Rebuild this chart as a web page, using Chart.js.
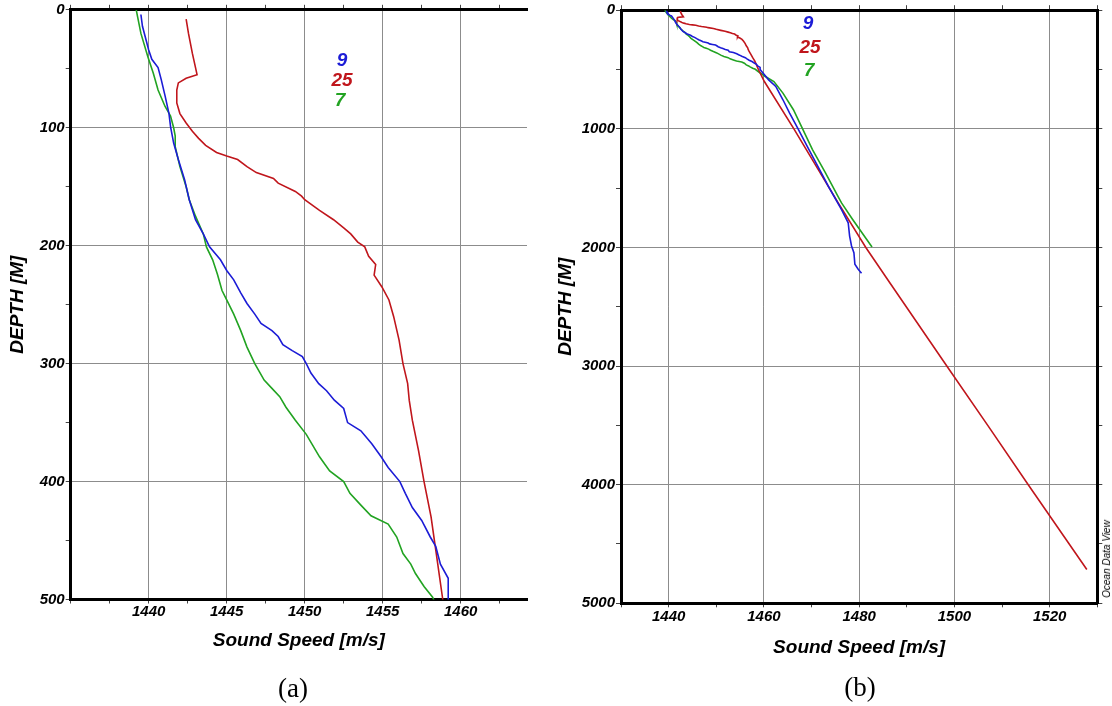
<!DOCTYPE html>
<html>
<head>
<meta charset="utf-8">
<script src="https://cdn.jsdelivr.net/npm/chart.js@4"></script>
<style>
  body { margin: 0; background: #fff; width: 1112px; height: 706px; position: relative; overflow: hidden; }
  canvas { position: absolute; top: 0; }
  #leftChart { left: 0; }
  #rightChart { left: 556px; }
  .lbl { position: absolute; transform: translate(-50%, -50%); line-height: 1; white-space: nowrap;
         font-family: "Liberation Sans", Arial, sans-serif; font-weight: bold; font-style: italic; font-size: 19px; }
  .cap { position: absolute; transform: translate(-50%, -50%); line-height: 1;
         font-family: "Liberation Serif", "DejaVu Serif", serif; font-size: 27px; }
  .odv { position: absolute; transform: translate(-50%, -50%) rotate(-90deg); line-height: 1; white-space: nowrap;
         font-family: "Liberation Sans", Arial, sans-serif; font-style: italic; font-size: 10px; }
</style>
</head>
<body>
<canvas id="leftChart" width="556" height="706"></canvas>
<canvas id="rightChart" width="556" height="706"></canvas>

<div class="lbl" style="left:342px; top:59px; color:#1c1cd6;">9</div>
<div class="lbl" style="left:342px; top:79px; color:#c0161c;">25</div>
<div class="lbl" style="left:340px; top:99px; color:#22a322;">7</div>

<div class="lbl" style="left:808px; top:22px; color:#1c1cd6;">9</div>
<div class="lbl" style="left:810px; top:46px; color:#c0161c;">25</div>
<div class="lbl" style="left:809px; top:69px; color:#22a322;">7</div>

<div class="cap" style="left:293px; top:688px;">(a)</div>
<div class="cap" style="left:860px; top:687px;">(b)</div>
<div class="odv" style="left:1107px; top:559px;">Ocean Data View</div>

<script>
// station 9 (blue)
const depth9 = [4, 14, 34, 42, 49, 59, 73, 88, 99, 113, 127, 144, 161, 178, 190, 201, 212, 221, 229, 240,
  249, 258, 266, 272, 277, 284, 289, 294, 300, 308, 317, 323, 331, 338, 350, 357, 368, 379, 388, 400,
  410, 422, 433, 447, 455, 470, 482, 500, 587, 643, 755, 867, 979, 1147, 1315, 1482, 1681, 1792, 1904,
  1988, 2044, 2141, 2183, 2217];
const speed9 = [1439.5, 1439.6, 1440.0, 1440.2, 1440.6, 1440.8, 1441.05, 1441.3, 1441.4, 1441.6, 1441.9,
  1442.3, 1442.6, 1443.0, 1443.5, 1443.9, 1444.6, 1445.0, 1445.45, 1445.9, 1446.3, 1446.8, 1447.2, 1447.9,
  1448.3, 1448.6, 1449.2, 1449.85, 1450.1, 1450.4, 1450.9, 1451.4, 1451.9, 1452.5, 1452.75, 1453.6, 1454.3,
  1454.9, 1455.35, 1456.1, 1456.45, 1456.9, 1457.5, 1458.05, 1458.4, 1458.7, 1459.2, 1459.2, 1461.0, 1462.5,
  1464.0, 1465.4, 1466.9, 1469.1, 1471.3, 1473.5, 1476.3, 1477.7, 1478.0, 1478.4, 1478.9, 1479.1, 1479.8, 1480.5];

// station 25 (red)
const depth25 = [8, 20, 37, 55, 58, 62, 68, 79, 88, 96, 103, 109, 115, 121, 124, 127, 133, 138, 143, 147,
  154, 158, 161, 170, 178, 185, 190, 197, 201, 209, 216, 225, 235, 246, 260, 280, 300, 317, 331, 348,
  374, 400, 430, 458, 500, 601, 1000, 1625, 2000, 2295, 3000, 3500, 4000, 4715];
const speed25 = [1442.4, 1442.55, 1442.8, 1443.1, 1442.4, 1441.9, 1441.8, 1441.8, 1442.0, 1442.4, 1442.8,
  1443.2, 1443.65, 1444.35, 1445.0, 1445.7, 1446.3, 1446.9, 1448.0, 1448.3, 1449.4, 1449.8, 1450.0, 1450.95,
  1451.85, 1452.5, 1452.95, 1453.4, 1453.85, 1454.1, 1454.55, 1454.45, 1454.95, 1455.4, 1455.7, 1456.05,
  1456.3, 1456.6, 1456.7, 1456.9, 1457.3, 1457.65, 1458.1, 1458.4, 1458.85, 1460.1, 1466.3, 1475.6, 1481.4,
  1486.4, 1498.4, 1507.0, 1515.5, 1527.8];

// station 7 (green)
const depth7 = [0, 20, 40, 54, 68, 82, 90, 100, 107, 116, 133, 150, 161, 175, 190, 201, 212, 224, 238, 246,
  258, 272, 286, 300, 307, 314, 321, 328, 337, 348, 360, 379, 391, 400, 410, 420, 429, 436, 447, 461,
  470, 478, 489, 498, 517, 559, 601, 699, 839, 1007, 1175, 1370, 1566, 1625, 1762, 1996];
const speed7 = [1439.2, 1439.5, 1439.95, 1440.3, 1440.6, 1441.05, 1441.4, 1441.6, 1441.7, 1441.7, 1442.0,
  1442.4, 1442.6, 1443.0, 1443.5, 1443.7, 1444.1, 1444.4, 1444.7, 1445.0, 1445.45, 1445.9, 1446.3, 1446.8,
  1447.1, 1447.4, 1447.9, 1448.4, 1448.8, 1449.4, 1450.1, 1450.95, 1451.6, 1452.5, 1452.9, 1453.6, 1454.25,
  1455.35, 1455.9, 1456.3, 1456.8, 1457.1, 1457.65, 1458.2, 1458.8, 1460.3, 1462.1, 1464.0, 1466.2, 1468.2,
  1470.2, 1472.9, 1475.5, 1476.3, 1478.6, 1482.7];

const stationNames = ['9', '25', '7'];
const stationColors = ['#1c1cd6', '#c0161c', '#22a322'];

const tickFont = { family: '"Liberation Sans", Arial, sans-serif', size: 15, weight: 'bold', style: 'italic', lineHeight: 1 };
const titleFont = { family: '"Liberation Sans", Arial, sans-serif', size: 19, weight: 'bold', style: 'italic', lineHeight: 1 };

function toPoints(depths, speeds) {
  return depths.map((d, i) => ({ x: speeds[i], y: d }));
}

function makeDatasets() {
  const sets = [[depth9, speed9], [depth25, speed25], [depth7, speed7]];
  return sets.map((s, i) => ({
    label: stationNames[i],
    data: toPoints(s[0], s[1]),
    borderColor: stationColors[i],
    borderWidth: 1.6,
    pointRadius: 0,
    tension: 0,
    fill: false
  }));
}

function near(v, step) {
  return Math.abs(v / step - Math.round(v / step)) < 1e-6;
}

// one panel; box = chart area edges in canvas pixels
function makePanel(id, xr, yr, box) {
  const W = 556, H = 706;
  const gridColor = ctx => near(ctx.tick.value, xr.major) ? '#8c8c8c' : 'rgba(0,0,0,0)';
  const ygridColor = ctx => near(ctx.tick.value, yr.major) ? '#8c8c8c' : 'rgba(0,0,0,0)';
  const scales = {
    x: {
      type: 'linear', axis: 'x', position: 'bottom', min: xr.min, max: xr.max,
      ticks: {
        stepSize: xr.minor, includeBounds: false, autoSkip: false, maxRotation: 0,
        color: '#000', font: tickFont, padding: xr.labelPad,
        // no label on the left corner of the frame
        callback: v => (near(v, xr.major) && v > xr.min + 1e-6) ? String(Math.round(v)) : ''
      },
      grid: { color: gridColor, lineWidth: 1, tickColor: '#444', tickLength: 4 },
      border: { color: '#000', width: 3 },
      title: { display: true, text: 'Sound Speed [m/s]', color: '#000', font: titleFont,
               padding: { top: 0, bottom: xr.titlePad } },
      afterFit: s => { s.height = H - box.bottom; }
    },
    xTop: {
      type: 'linear', axis: 'x', position: 'top', min: xr.min, max: xr.max,
      ticks: { stepSize: xr.minor, includeBounds: false, autoSkip: false, callback: () => '' },
      grid: { drawOnChartArea: false, tickColor: '#444', tickLength: 5 },
      border: { color: '#000', width: 3 },
      afterFit: s => { s.height = box.top; }
    },
    y: {
      type: 'linear', axis: 'y', position: 'left', reverse: true, min: yr.min, max: yr.max,
      ticks: {
        stepSize: yr.minor, includeBounds: false, autoSkip: false, color: '#000',
        font: Object.assign({}, tickFont, { lineHeight: 0.8 }), padding: 1,
        callback: v => near(v, yr.major) ? String(Math.round(v)) : ''
      },
      grid: { color: ygridColor, lineWidth: 1, tickColor: '#444', tickLength: 5 },
      border: { color: '#000', width: 3 },
      title: { display: true, text: 'DEPTH [M]', color: '#000', font: titleFont,
               padding: { top: yr.titlePad, bottom: 0 } },
      afterFit: s => { s.width = box.left; }
    }
  };
  if (yr.rightAxis) {
    scales.y2 = {
      type: 'linear', axis: 'y', position: 'right', reverse: true, min: yr.min, max: yr.max,
      ticks: { stepSize: yr.minor, includeBounds: false, callback: () => '' },
      grid: { drawOnChartArea: false, tickColor: '#444', tickLength: 5 },
      border: { color: '#000', width: 3 },
      afterFit: s => { s.width = W - box.right; }
    };
  }
  return new Chart(document.getElementById(id), {
    type: 'line',
    data: { datasets: makeDatasets() },
    options: {
      responsive: false,
      animation: false,
      devicePixelRatio: 1,
      layout: { autoPadding: false, padding: { left: 0, top: 0, bottom: 0, right: yr.rightAxis ? 0 : W - box.right } },
      plugins: { legend: { display: false }, tooltip: { enabled: false } },
      scales: scales
    }
  });
}

makePanel('leftChart',
  { min: 1435, max: 1464.25, minor: 2.5, major: 5, labelPad: 1, titlePad: 56 },
  { min: 0, max: 500, minor: 50, major: 100, titlePad: 8, rightAxis: false },
  { left: 70.7, top: 9.8, right: 527, bottom: 599.5 });

makePanel('rightChart',
  { min: 1430, max: 1530, minor: 10, major: 20, labelPad: 2, titlePad: 49 },
  { min: 0, max: 5000, minor: 500, major: 1000, titlePad: 0, rightAxis: true },
  { left: 65, top: 5.7, right: 541.3, bottom: 603.3 });
</script>
</body>
</html>
